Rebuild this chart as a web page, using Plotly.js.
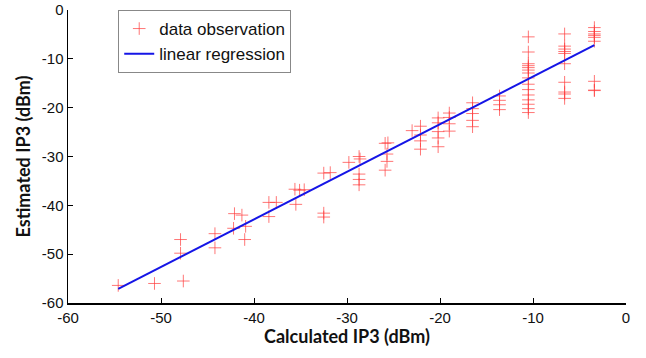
<!DOCTYPE html>
<html>
<head>
<meta charset="utf-8">
<script src="https://cdn.plot.ly/plotly-3.0.1.min.js"></script>
<style>html,body{margin:0;padding:0;background:#fff;}#chart{width:646px;height:358px;}</style>
</head>
<body>
<div id="chart"></div>
<script>
// Data observations (Calculated IP3 vs Estimated IP3, dBm)
const obsX = [
  -54.6, -50.7, -47.6, -47.9, -47.9, -44.2, -44.2,
  -42.1, -41.3, -42.2, -40.9, -41.0,
  -38.4, -37.6, -38.4,
  -35.6, -35.1, -34.6, -35.5,
  -32.5, -31.8, -32.5, -32.5,
  -29.8, -28.7, -28.6, -28.7, -28.7, -28.7,
  -25.9, -25.6, -25.7, -25.7, -25.9,
  -23.0, -22.1, -22.1, -22.1, -22.1,
  -20.2, -20.2, -20.2, -20.2, -20.2,
  -19.0, -19.0, -19.0, -19.0,
  -16.5, -16.5, -16.5, -16.5, -16.5,
  -13.6, -13.6, -13.6, -13.6,
  -10.5, -10.5, -10.5, -10.5, -10.5, -10.5, -10.5, -10.5, -10.5, -10.5, -10.5, -10.5, -10.5, -10.5, -10.5,
  -6.6, -6.6, -6.6, -6.6, -6.6, -6.6, -6.6, -6.6, -6.6, -6.6,
  -3.4, -3.4, -3.4, -3.4, -3.4, -3.4, -3.4, -3.4, -3.4
];
const obsY = [
  -56.4, -56.0, -55.5, -47.0, -49.8, -45.8, -48.7,
  -41.7, -42.0, -44.7, -44.3, -47.0,
  -39.4, -39.4, -42.3,
  -36.7, -36.9, -36.8, -39.8,
  -33.4, -33.3, -41.6, -42.4,
  -31.2, -30.0, -30.5, -33.6, -34.7, -35.8,
  -27.3, -27.2, -29.5, -31.0, -32.8,
  -24.7, -23.8, -25.6, -26.8, -28.5,
  -22.1, -23.1, -24.9, -26.2, -28.0,
  -21.1, -22.0, -23.3, -24.8,
  -19.0, -20.2, -21.2, -22.6, -23.9,
  -17.6, -18.5, -19.4, -20.4,
  -5.5, -8.6, -11.0, -11.4, -11.8, -12.3, -12.9, -13.9, -15.2, -16.3, -17.4, -18.4, -19.3, -20.2, -21.0,
  -4.9, -7.4, -8.0, -8.5, -8.9, -11.0, -14.8, -16.8, -17.2, -18.1,
  -3.6, -4.4, -4.9, -5.2, -5.6, -6.4, -14.6, -16.4, -16.5
];
// Linear regression line end points
const fitX = [-54.6, -3.4];
const fitY = [-57.1, -7.2];

const xTicks = [-60, -50, -40, -30, -20, -10, 0];
const yTicks = [-60, -50, -40, -30, -20, -10, 0];

const traces = [
  {
    x: obsX, y: obsY, type: 'scatter', mode: 'markers', name: 'data observation',
    marker: {symbol: 'cross-thin-open', size: 9, color: 'rgba(255,60,60,0.7)',
             line: {width: 1, color: 'rgba(255,60,60,0.7)'}}
  },
  {
    x: fitX, y: fitY, type: 'scatter', mode: 'lines', name: 'linear regression',
    line: {color: '#1515e6', width: 2}
  }
];

const axisCommon = {
  showgrid: false, zeroline: false, showline: true, linecolor: '#000', linewidth: 1.5,
  ticks: 'inside', ticklen: 5, tickwidth: 1, tickcolor: '#000', mirror: false,
  tickfont: {family: 'Liberation Sans, Arial, sans-serif', size: 15, color: '#111'}
};

const layout = {
  width: 646, height: 358,
  margin: {l: 68, r: 20, t: 9.5, b: 55},
  paper_bgcolor: '#fff', plot_bgcolor: '#fff',
  showlegend: true,
  legend: {
    x: 0.09, y: 1, xanchor: 'left', yanchor: 'top',
    bgcolor: '#fff', bordercolor: '#888', borderwidth: 1,
    font: {family: 'Liberation Sans, Arial, sans-serif', size: 17, color: '#111'},
    itemwidth: 30, tracegroupgap: 0
  },
  xaxis: Object.assign({}, axisCommon, {
    range: [-60, 0], tickvals: xTicks, ticktext: xTicks.map(String),
    title: {text: 'Calculated IP3 (dBm)', standoff: 6,
            font: {family: 'Lato, Open Sans, sans-serif', size: 18, color: '#111', weight: 'bold'}}
  }),
  yaxis: Object.assign({}, axisCommon, {
    range: [-60, 0], tickvals: yTicks, ticktext: yTicks.map(String),
    title: {text: 'Estimated IP3 (dBm)', standoff: 6,
            font: {family: 'Lato, Open Sans, sans-serif', size: 18, color: '#111', weight: 'bold'}}
  })
};

Plotly.newPlot('chart', traces, layout, {displayModeBar: false, staticPlot: true});
</script>
</body>
</html>
